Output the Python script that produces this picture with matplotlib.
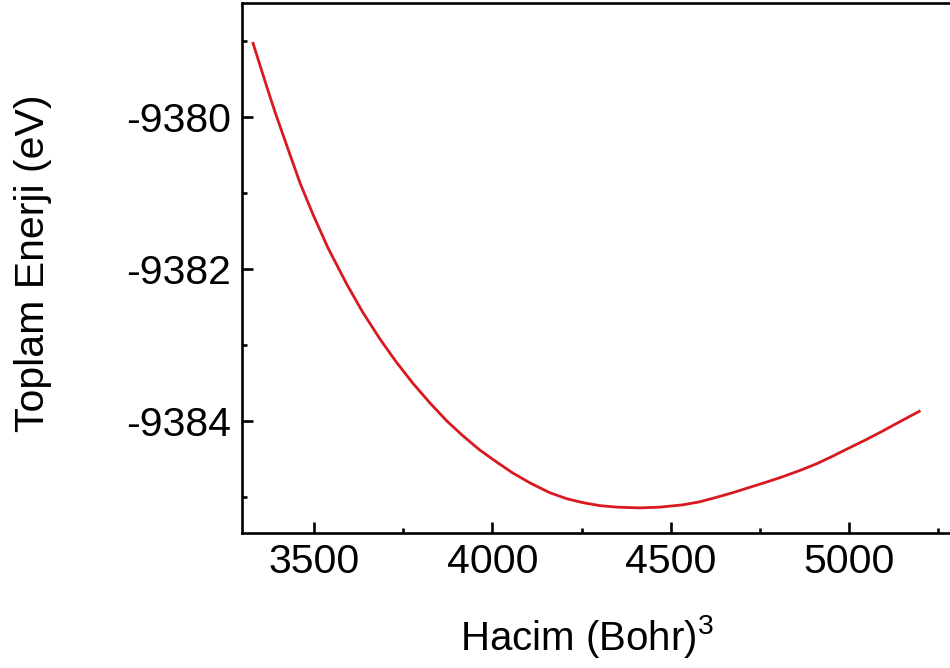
# total energy vs. volume curve

import numpy as np
import matplotlib
matplotlib.use('Agg')
from matplotlib import pyplot as plt
from matplotlib.ticker import MultipleLocator

plt.rcParams['font.family'] = ['Liberation Sans', 'DejaVu Sans']
plt.rcParams['mathtext.fontset'] = 'custom'
plt.rcParams['mathtext.rm'] = 'Liberation Sans'
plt.rcParams['axes.unicode_minus'] = False

# volume (Bohr^3) and total energy (eV)
hacim = [3329, 3360, 3377, 3394, 3433, 3461, 3497, 3539, 3592, 3637,
         3685, 3732, 3777, 3825, 3873, 3917, 3965, 4013, 4057, 4105,
         4161, 4209, 4253, 4301, 4349, 4413, 4469, 4534, 4581, 4629,
         4674, 4721, 4769, 4814, 4861, 4909, 4954, 5001, 5049, 5094,
         5141, 5197]
enerji = [-9379.03, -9379.49, -9379.74, -9379.98, -9380.50, -9380.87,
          -9381.28, -9381.72, -9382.20, -9382.57, -9382.92, -9383.23,
          -9383.50, -9383.76, -9384.00, -9384.19, -9384.38, -9384.54,
          -9384.68, -9384.81, -9384.94, -9385.02, -9385.07, -9385.11,
          -9385.13, -9385.14, -9385.13, -9385.10, -9385.06, -9385.00,
          -9384.94, -9384.87, -9384.80, -9384.73, -9384.65, -9384.56,
          -9384.46, -9384.35, -9384.24, -9384.13, -9384.01, -9383.87]

x_ticks = [3500, 4000, 4500, 5000]
y_ticks = [-9380, -9382, -9384]

fig = plt.figure(figsize=(9.5, 6.68), dpi=100)
ax = fig.add_axes([242/950, 135/668, 714/950, 530/668])

ax.plot(hacim, enerji, color='#d71920', lw=2.0, solid_joinstyle='round')

ax.set_xlim(3298, 5300)
ax.set_ylim(-9385.47, -9378.5)
ax.set_xticks(x_ticks)
ax.set_yticks(y_ticks)
ax.xaxis.set_minor_locator(MultipleLocator(250))
ax.yaxis.set_minor_locator(MultipleLocator(1))

for s in ax.spines.values():
    s.set_linewidth(1.9)

ax.tick_params(which='both', direction='in', width=1.9, labelsize=29.5,
               top=False, right=False)
ax.tick_params(which='major', length=8)
ax.tick_params(which='minor', length=3.8)
ax.tick_params(axis='x', pad=7)
ax.tick_params(axis='y', pad=8)

fig.text(587/950, 1 - 637/668, r'Hacim (Bohr)$^{3}$', fontsize=29,
         ha='center', va='center')
fig.text(33/950, 1 - 263/668, 'Toplam Enerji (eV)', fontsize=29.5,
         rotation=90, ha='center', va='center')

plt.savefig('out.png', dpi=100)
